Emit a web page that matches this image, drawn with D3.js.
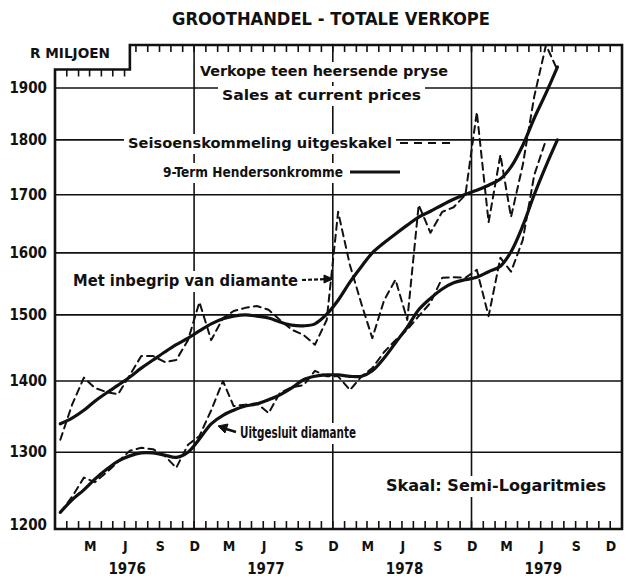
<!DOCTYPE html>
<html>
<head>
<meta charset="utf-8">
<script src="https://cdn.jsdelivr.net/npm/d3@7"></script>
<style>
  body { margin: 0; background: #fff; }
  svg text {
    font-family: "DejaVu Sans Condensed", "Liberation Sans Narrow", "DejaVu Sans", sans-serif;
    font-weight: bold;
    fill: #111;
  }
</style>
</head>
<body>
<div id="chart"></div>
<script>
//////////////////////
//  main constants  //
//////////////////////
const WIDTH = 629;
const HEIGHT = 582;

// monthly series, first value = Dec 1975 (R million)
const firstMonth = Date.UTC(1975, 11, 15);
const inclSeasonal = [1317, 1366, 1405, 1390, 1384, 1381, 1409, 1437, 1437, 1428, 1431, 1461,
  1520, 1461, 1495, 1506, 1511, 1514, 1508, 1492, 1477, 1469, 1454, 1492,
  1670, 1580, 1516, 1464, 1523, 1556, 1492, 1682, 1634, 1670, 1678, 1700,
  1853, 1652, 1772, 1661, 1754, 1883, 1987, 1936];
const inclTrend = [1339, 1347, 1358, 1371, 1383, 1394, 1406, 1419, 1431, 1443, 1454, 1464,
  1475, 1486, 1494, 1498, 1500, 1498, 1495, 1489, 1484, 1483, 1486, 1501,
  1523, 1552, 1578, 1600, 1617, 1632, 1647, 1661, 1671, 1682, 1692, 1701,
  1708, 1717, 1728, 1750, 1790, 1841, 1890, 1942];
const exclSeasonal = [1221, 1241, 1266, 1260, 1273, 1287, 1302, 1306, 1304, 1295, 1279, 1310,
  1322, 1358, 1400, 1364, 1366, 1368, 1354, 1383, 1391, 1394, 1415, 1407,
  1407, 1387, 1407, 1419, 1443, 1461, 1477, 1498, 1519, 1559, 1560, 1559,
  1572, 1498, 1592, 1569, 1622, 1735, 1800];
const exclTrend = [1221, 1237, 1250, 1264, 1277, 1288, 1295, 1299, 1299, 1296, 1293, 1300,
  1318, 1339, 1351, 1358, 1364, 1367, 1373, 1380, 1390, 1402, 1407, 1409,
  1409, 1407, 1407, 1415, 1434, 1457, 1481, 1508, 1526, 1541, 1551, 1556,
  1560, 1569, 1578, 1602, 1646, 1700, 1752, 1800];

const yTicks = [1200, 1300, 1400, 1500, 1600, 1700, 1800, 1900];
const years = [1976, 1977, 1978, 1979];
const quarterLabels = ["M", "J", "S", "D"];
const quarterMonths = [2, 5, 8, 11];
const gridYears = [1976, 1977, 1978];

const FRAME_TOP = 1987;
const FRAME_STEP = 1937;

const svg = d3.select("#chart").append("svg")
  .attr("width", WIDTH).attr("height", HEIGHT)
  .style("background", "#fff");

const x = d3.scaleUtc()
  .domain([Date.UTC(1975, 11, 1), Date.UTC(1980, 0, 1)])
  .range([55, 622]);
const y = d3.scaleLog().domain([1200, 1900]).range([529, 88]);

const monthDate = i => d3.utcMonth.offset(new Date(firstMonth), i);
const [x0, x1] = x.range();
const yBottom = y(1200);
const yTop = y(FRAME_TOP);
const yStep = y(FRAME_STEP);
const xStep = x(Date.UTC(1976, 5, 15));

////////////////
//  gridlines  //
////////////////
const grid = svg.append("g").attr("stroke", "#111").attr("stroke-width", 1.6);
grid.selectAll("line.h").data(yTicks.slice(1)).join("line")
  .attr("x1", x0).attr("x2", x1)
  .attr("y1", d => y(d)).attr("y2", d => y(d));
grid.selectAll("line.v").data(gridYears).join("line")
  .attr("x1", d => x(Date.UTC(d, 11, 1))).attr("x2", d => x(Date.UTC(d, 11, 1)))
  .attr("y1", yBottom).attr("y2", yTop);

//////////////////////
//  frame and ticks  //
//////////////////////
const frame = svg.append("g").attr("stroke", "#111").attr("fill", "none");
frame.append("path")
  .attr("stroke-width", 2.6)
  .attr("d", `M${x0},${yBottom}L${x0},${yStep}L${xStep},${yStep}L${xStep},${yTop}L${x1},${yTop}L${x1},${yBottom}Z`);

const tickMonths = d3.utcMonth.range(new Date(Date.UTC(1976, 0, 1)), new Date(Date.UTC(1980, 0, 1)));
frame.selectAll("line.bt").data(tickMonths).join("line")
  .attr("stroke-width", 1.6)
  .attr("x1", d => x(d)).attr("x2", d => x(d))
  .attr("y1", yBottom).attr("y2", yBottom - 8);
frame.selectAll("line.tt").data(tickMonths).join("line")
  .attr("stroke-width", 1.6)
  .attr("x1", d => x(d)).attr("x2", d => x(d))
  .attr("y1", d => x(d) < xStep ? yStep : yTop)
  .attr("y2", d => (x(d) < xStep ? yStep : yTop) + 7);

///////////////
//  labels  //
///////////////
svg.append("text").attr("x", 331).attr("y", 25).attr("text-anchor", "middle")
  .attr("font-size", 18).attr("textLength", 318).attr("lengthAdjust", "spacingAndGlyphs")
  .text("GROOTHANDEL - TOTALE VERKOPE");
svg.append("text").attr("x", 30).attr("y", 58).attr("font-size", 14)
  .attr("textLength", 80).attr("lengthAdjust", "spacingAndGlyphs")
  .text("R MILJOEN");

svg.selectAll("text.ytick").data(yTicks).join("text")
  .attr("x", 47).attr("y", d => y(d) + 5 - (d === 1200 ? 4 : 0))
  .attr("text-anchor", "end").attr("font-size", 15)
  .text(d => d);

const qData = years.flatMap(yr => quarterMonths.map((m, k) => ({ yr, m, label: quarterLabels[k] })));
svg.selectAll("text.month").data(qData).join("text")
  .attr("x", d => x(Date.UTC(d.yr, d.m, 3))).attr("y", 551)
  .attr("text-anchor", "middle").attr("font-size", 14)
  .text(d => d.label);
svg.selectAll("text.year").data(years).join("text")
  .attr("x", d => x(Date.UTC(d, 5, 8))).attr("y", 574)
  .attr("text-anchor", "middle").attr("font-size", 15)
  .text(d => d);

// annotations inside the plot, on a white patch that breaks the gridlines
const notes = [
  { t: "Verkope teen heersende pryse", x: 200, y: 76, w: 248, s: 14 },
  { t: "Sales at current prices", x: 222, y: 100, w: 199, s: 14 },
  { t: "Seisoenskommeling uitgeskakel", x: 128, y: 148, w: 264, s: 14 },
  { t: "9-Term Hendersonkromme", x: 163, y: 177, w: 180, s: 14 },
  { t: "Met inbegrip van diamante", x: 73, y: 286, w: 225, s: 15 },
  { t: "Uitgesluit diamante", x: 240, y: 438, w: 116, s: 15 },
  { t: "Skaal: Semi-Logaritmies", x: 386, y: 491, w: 220, s: 15 }
];
const noteG = svg.append("g");
notes.forEach(n => {
  noteG.append("rect")
    .attr("x", n.x - 4).attr("y", n.y - n.s).attr("width", n.w + 8).attr("height", n.s + 6)
    .attr("fill", "#fff");
  noteG.append("text").attr("x", n.x).attr("y", n.y).attr("font-size", n.s)
    .attr("textLength", n.w).attr("lengthAdjust", "spacingAndGlyphs")
    .text(n.t);
});

// legend samples and arrows
const leg = svg.append("g").attr("stroke", "#111").attr("fill", "none");
leg.append("line").attr("x1", 400).attr("x2", 456).attr("y1", 143).attr("y2", 143)
  .attr("stroke-width", 2.2).attr("stroke-dasharray", "8,6");
leg.append("line").attr("x1", 350).attr("x2", 400).attr("y1", 172).attr("y2", 172)
  .attr("stroke-width", 3);
leg.append("line").attr("x1", 302).attr("x2", 328).attr("y1", 280).attr("y2", 279)
  .attr("stroke-width", 2.2).attr("stroke-dasharray", "4,2");
leg.append("path").attr("d", "M324,275L333,279L324,283Z").attr("fill", "#111");
leg.append("line").attr("x1", 236).attr("x2", 223).attr("y1", 432).attr("y2", 428)
  .attr("stroke-width", 2.4);
leg.append("path").attr("d", "M218,426L228,424L225,433Z").attr("fill", "#111");

/////////////////
//  the lines  //
/////////////////
const lineSA = d3.line().x((d, i) => x(monthDate(i))).y(d => y(d));
const lineTrend = d3.line().x((d, i) => x(monthDate(i))).y(d => y(d))
  .curve(d3.curveCatmullRom.alpha(0.5));

const lines = svg.append("g").attr("fill", "none").attr("stroke", "#111")
  .attr("stroke-linejoin", "round").attr("stroke-linecap", "round");
[inclSeasonal, exclSeasonal].forEach(s => {
  lines.append("path").attr("d", lineSA(s))
    .attr("stroke-width", 2).attr("stroke-dasharray", "7,5");
});
[inclTrend, exclTrend].forEach(s => {
  lines.append("path").attr("d", lineTrend(s)).attr("stroke-width", 3.2);
});
</script>
</body>
</html>
